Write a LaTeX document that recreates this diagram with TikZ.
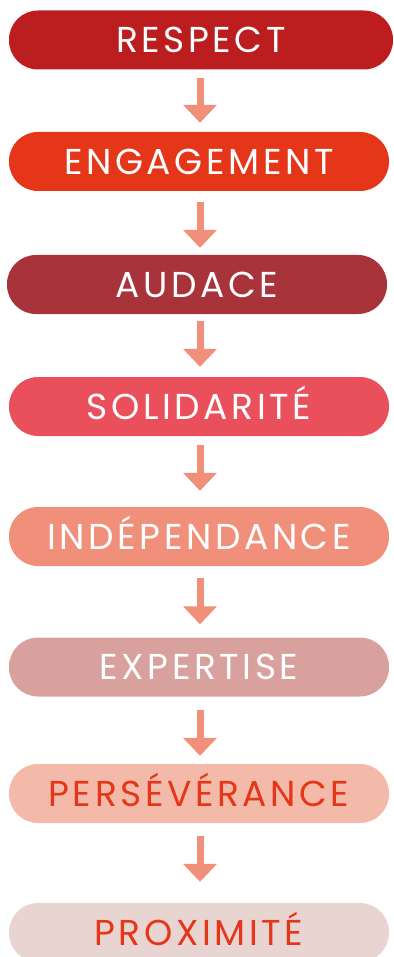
\documentclass[tikz,border=0pt]{standalone}
\usepackage{fontspec}
\setmainfont[LetterSpace=10]{Poppins}
\usetikzlibrary{arrows.meta}
\definecolor{c1}{HTML}{BC1E20}
\definecolor{c2}{HTML}{E5361A}
\definecolor{c3}{HTML}{A8333A}
\definecolor{c4}{HTML}{E9505C}
\definecolor{c5}{HTML}{F0907A}
\definecolor{c6}{HTML}{D8A19E}
\definecolor{c7}{HTML}{F3BAAA}
\definecolor{c8}{HTML}{E8D5D1}
\definecolor{arrowc}{HTML}{F0907A}
\begin{document}
\begin{tikzpicture}[x=1pt,y=1pt,
  pill/.style={rectangle, rounded corners=29pt, minimum width=380pt, minimum height=59pt,
    inner sep=0pt, text height=25.5pt, text depth=0pt,
    font=\fontsize{36}{36}\selectfont, text=white},
  arr/.style={draw=arrowc, line width=7pt, -{Triangle[width=33pt,length=18pt]}}]
\clip (0,0) rectangle (393,-957);
\useasboundingbox (0,0) rectangle (393,-957);
\coordinate (ax) at (200,0);
\node[pill, fill=c1, minimum width=384pt] (b1) at (201,-40) {RESPECT};
\node[pill, fill=c2] (b2) at (199,-161.5) {ENGAGEMENT};
\node[pill, fill=c3] (b3) at (197,-284.5) {AUDACE};
\node[pill, fill=c4] (b4) at (199,-406.5) {SOLIDARITÉ};
\node[pill, fill=c5] (b5) at (199,-536.5) {INDÉPENDANCE};
\node[pill, fill=c6] (b6) at (199,-667) {EXPERTISE};
\node[pill, fill=c7, text=c2] (b7) at (199,-793.5) {PERSÉVÉRANCE};
\node[pill, fill=c8, text=c2] (b8) at (199,-932.5) {PROXIMITÉ};
\draw[arr, shorten <=8pt, shorten >=9pt] (b1.south -| ax) -- (b2.north -| ax);
\draw[arr, shorten <=11pt, shorten >=7pt] (b2.south -| ax) -- (b3.north -| ax);
\draw[arr, shorten <=7pt, shorten >=10pt] (b3.south -| ax) -- (b4.north -| ax);
\draw[arr, shorten <=9pt, shorten >=16pt] (b4.south -| ax) -- (b5.north -| ax);
\draw[arr, shorten <=12pt, shorten >=13pt] (b5.south -| ax) -- (b6.north -| ax);
\draw[arr, shorten <=13pt, shorten >=8pt] (b6.south -| ax) -- (b7.north -| ax);
\draw[arr, shorten <=13pt, shorten >=21pt] (b7.south -| ax) -- (b8.north -| ax);
\end{tikzpicture}
\end{document}
